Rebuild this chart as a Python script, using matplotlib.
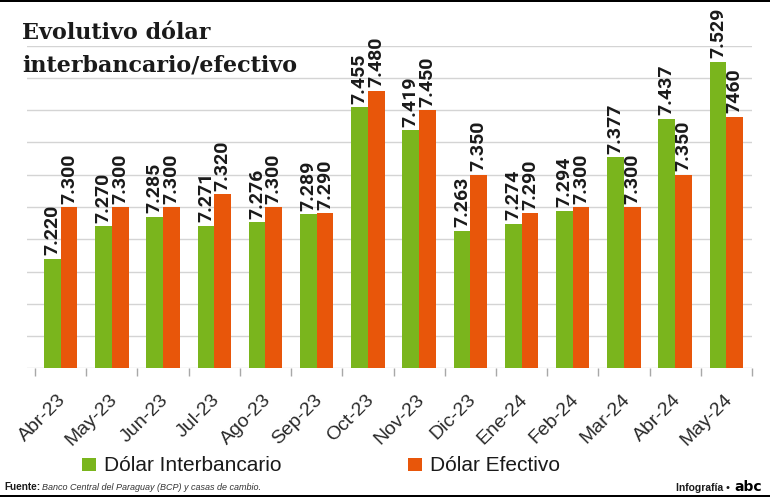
import matplotlib

matplotlib.use("Agg")

import matplotlib.pyplot as plt
from matplotlib.patches import Rectangle
from matplotlib.transforms import ScaledTranslation


GREEN = "#7ab51d"
ORANGE = "#e8560a"
GRID = "#d4d4d4"
TICK = "#a8a8a8"
INK = "#1a1a1a"

months = ["Abr-23", "May-23", "Jun-23", "Jul-23", "Ago-23", "Sep-23", "Oct-23",
          "Nov-23", "Dic-23", "Ene-24", "Feb-24", "Mar-24", "Abr-24", "May-24"]
interbancario = [7.220, 7.270, 7.285, 7.271, 7.276, 7.289, 7.455,
                 7.419, 7.263, 7.274, 7.294, 7.377, 7.437, 7.525]
efectivo = [7.300, 7.300, 7.300, 7.320, 7.300, 7.290, 7.480,
            7.450, 7.350, 7.290, 7.300, 7.300, 7.350, 7.440]
interbancario_labels = ["7.220", "7.270", "7.285", "7.271", "7.276", "7.289", "7.455",
                        "7.419", "7.263", "7.274", "7.294", "7.377", "7.437", "7.529"]
efectivo_labels = ["7.300", "7.300", "7.300", "7.320", "7.300", "7.290", "7.480",
                   "7.450", "7.350", "7.290", "7.300", "7.300", "7.350", "7460"]

W, H = 770, 498
BAR_W = 0.326
LABEL_FONT = ["Roboto", "DejaVu Sans"]
SANS = ["Liberation Sans", "DejaVu Sans"]
NARROW = ["Liberation Sans Narrow", "Liberation Sans", "DejaVu Sans"]


def px(x, y):
    return x / W, 1 - y / H


def bar_labels(ax, xs, values, texts):
    for x, v, t in zip(xs, values, texts):
        ax.annotate(t, (x, v), xytext=(0, 2.5), textcoords="offset points",
                    rotation=90, ha="center", va="bottom", fontsize=14,
                    fontweight="bold", family=LABEL_FONT, color=INK,
                    annotation_clip=False)


def main():
    fig = plt.figure(figsize=(W / 100, H / 100), dpi=100)
    fig.patch.set_facecolor("white")

    left, top = px(27, 45.7)
    right, bottom = px(752, 368.3)
    ax = fig.add_axes([left, bottom, right - left, top - bottom])

    xs = list(range(len(months)))
    ax.bar([x - BAR_W / 2 for x in xs], interbancario, BAR_W, bottom=0,
           color=GREEN, zorder=3)
    ax.bar([x + BAR_W / 2 for x in xs], efectivo, BAR_W, bottom=0,
           color=ORANGE, zorder=3)
    bar_labels(ax, [x - BAR_W / 2 for x in xs], interbancario, interbancario_labels)
    bar_labels(ax, [x + BAR_W / 2 for x in xs], efectivo, efectivo_labels)

    ax.set_ylim(7.05, 7.55)
    ax.set_xlim(-0.5 - 8 / 51.2, len(months) - 0.5)
    ax.set_yticks([7.05 + 0.05 * i for i in range(11)])
    ax.yaxis.grid(True, color=GRID, linewidth=1.0, zorder=0)
    ax.tick_params(axis="y", length=0, labelleft=False)
    for s in ax.spines.values():
        s.set_visible(False)

    ax.set_xticks(xs)
    ax.set_xticks([x - 0.5 for x in xs] + [len(months) - 0.5], minor=True)
    ax.tick_params(axis="x", which="major", length=0, pad=16.5)
    ax.tick_params(axis="x", which="minor", length=6, width=1.0, color=TICK, direction="out")
    ax.set_xticklabels(months, rotation=45, ha="right", va="top",
                       rotation_mode="anchor", fontsize=14, family=SANS, color="#2a2a2a")
    shift = ScaledTranslation(-3 / 100, 0, fig.dpi_scale_trans)
    for lab in ax.get_xticklabels():
        lab.set_transform(lab.get_transform() + shift)

    # title
    x0, y1 = px(22, 39)
    _, y2 = px(22, 71)
    serif = ["DejaVu Serif"]
    fig.text(x0, y1, "Evolutivo dólar", fontsize=16, fontweight="bold",
             family=serif, color=INK, va="baseline")
    fig.text(x0, y2, "interbancario/efectivo", fontsize=16, fontweight="bold",
             family=serif, color=INK, va="baseline")

    # legend
    for (sx, tx, name, col) in [(82, 104, "Dólar Interbancario", GREEN),
                                (408, 430, "Dólar Efectivo", ORANGE)]:
        rx, ry = px(sx, 471)
        fig.add_artist(Rectangle((rx, ry), 14 / W, 13.5 / H, transform=fig.transFigure,
                                 facecolor=col, edgecolor="none"))
        lx, ly = px(tx, 471)
        fig.text(lx, ly, name, fontsize=15, family=SANS, color=INK, va="baseline")

    # source & credit
    fx, fy = px(4, 490)
    fig.text(fx, fy, "Fuente:", fontsize=7.2, fontweight="bold", family=NARROW,
             color=INK, va="baseline")
    fx2, _ = px(42, 490)
    fig.text(fx2, fy, "Banco Central del Paraguay (BCP) y casas de cambio.", fontsize=6.5,
             style="italic", family=NARROW, color="#333333", va="baseline")
    ix, iy = px(730, 491)
    fig.text(ix, iy, "Infografía •", fontsize=7.5, fontweight="bold", family=NARROW,
             color=INK, va="baseline", ha="right")
    ax2, _ = px(734, 491)
    fig.text(ax2, iy, "abc", fontsize=10, fontweight="heavy", family=["DejaVu Sans"],
             color="black", va="baseline", ha="left")

    # black rules
    fig.add_artist(Rectangle((0, 1 - 2 / H), 1, 2 / H, transform=fig.transFigure,
                             facecolor="black", edgecolor="none"))
    fig.add_artist(Rectangle((0, 1 - 497 / H), 1, 2 / H, transform=fig.transFigure,
                             facecolor="black", edgecolor="none"))

    fig.savefig("out.png", dpi=100, facecolor="white")
    plt.close(fig)


if __name__ == "__main__":
    main()
